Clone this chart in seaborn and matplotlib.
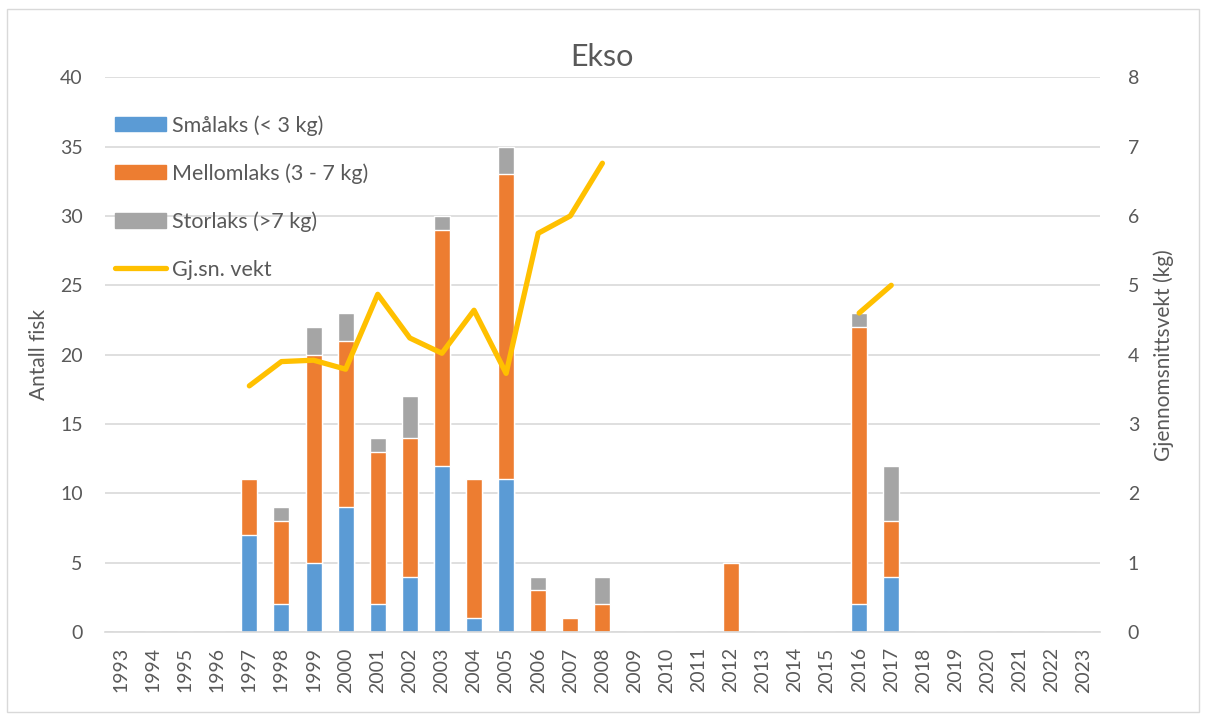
import numpy as np
import pandas as pd
import seaborn as sns
import matplotlib.pyplot as plt
from matplotlib.patches import Patch, Rectangle
from matplotlib.lines import Line2D

years = [str(y) for y in range(1993, 2024)]

# counts per year (only years with catch listed)
catch_years = [1997, 1998, 1999, 2000, 2001, 2002, 2003, 2004, 2005, 2006, 2007, 2008, 2012, 2016, 2017]
smalaks     = [7, 2, 5, 9, 2, 4, 12, 1, 11, 0, 0, 0, 0, 2, 4]
mellomlaks  = [4, 6, 15, 12, 11, 10, 17, 10, 22, 3, 1, 2, 5, 20, 4]
storlaks    = [0, 1, 2, 2, 1, 3, 1, 0, 2, 1, 0, 2, 0, 1, 4]

# average weight (kg)
vekt_years = [1997, 1998, 1999, 2000, 2001, 2002, 2003, 2004, 2005, 2006, 2007, 2008, 2016, 2017]
vekt       = [3.55, 3.9, 3.92, 3.79, 4.87, 4.24, 4.02, 4.64, 3.73, 5.75, 6.0, 6.76, 4.6, 5.0]

blue, orange, grey, gold = '#5B9BD5', '#ED7D31', '#A5A5A5', '#FFC000'
txt = '#595959'

df = pd.DataFrame({'year': years})
counts = pd.DataFrame({'year': [str(y) for y in catch_years],
                       'small': smalaks, 'mid': mellomlaks, 'large': storlaks})
df = df.merge(counts, on='year', how='left').fillna(0)
df['s_m'] = df['small'] + df['mid']
df['total'] = df['s_m'] + df['large']

sns.set_style('white')
plt.rcParams['font.family'] = ['Lato', 'DejaVu Sans']

fig = plt.figure(figsize=(12.06, 7.15), dpi=100)
ax = fig.add_axes([0.087, 0.116, 0.825, 0.776])

# stacked bars by overdrawing cumulative totals
sns.barplot(data=df, x='year', y='total', order=years, color=grey, width=0.5,
            saturation=1, ax=ax)
sns.barplot(data=df, x='year', y='s_m', order=years, color=orange, width=0.5,
            saturation=1, ax=ax)
sns.barplot(data=df, x='year', y='small', order=years, color=blue, width=0.5,
            saturation=1, ax=ax)

ax.set_xlim(-0.5, 30.5)
ax.set_ylim(0, 40)
ax.set_yticks(range(0, 41, 5))
ax.grid(axis='y', color='#D9D9D9', linewidth=1.2)
ax.set_axisbelow(True)
for s in ['top', 'right', 'left']:
    ax.spines[s].set_visible(False)
ax.spines['bottom'].set_color('#D9D9D9')
ax.spines['bottom'].set_linewidth(1.2)
ax.tick_params(axis='both', length=0, colors=txt, labelsize=14)
ax.tick_params(axis='y', pad=16)
ax.tick_params(axis='x', rotation=90, pad=11)
ax.set_xlabel('')
ax.set_ylabel('Antall fisk', color=txt, fontsize=15, labelpad=8)

# average weight line on secondary axis, broken where data is missing
ax2 = ax.twinx()
line = pd.DataFrame({'pos': [years.index(str(y)) for y in vekt_years], 'vekt': vekt})
line['seg'] = (line['pos'].diff().fillna(1) != 1).cumsum()
sns.lineplot(data=line, x='pos', y='vekt', units='seg', estimator=None,
             color=gold, linewidth=3.8, ax=ax2, legend=False)
ax2.set_ylim(0, 8)
ax2.set_yticks(range(0, 9))
ax2.set_xlim(-0.5, 30.5)
for s in ax2.spines.values():
    s.set_visible(False)
ax2.tick_params(axis='y', length=0, colors=txt, labelsize=14, pad=20)
ax2.set_ylabel('Gjennomsnittsvekt (kg)', color=txt, fontsize=15, labelpad=10)
ax2.grid(False)

ax.set_title('Ekso', color=txt, fontsize=22, pad=8)

handles = [Patch(color=blue), Patch(color=orange), Patch(color=grey),
           Line2D([], [], color=gold, linewidth=3.8)]
labels = ['Smålaks (< 3 kg)', 'Mellomlaks (3 - 7 kg)', 'Storlaks (>7 kg)', 'Gj.sn. vekt']
fig.legend(handles, labels, loc='upper left', bbox_to_anchor=(0.095, 0.839),
           frameon=False, fontsize=15.5, labelcolor=txt, handlelength=2.4,
           handleheight=0.65, handletextpad=0.25, labelspacing=1.28,
           borderpad=0, borderaxespad=0)

fig.add_artist(Rectangle((0.006, 0.004), 0.988, 0.984, transform=fig.transFigure,
                         fill=False, edgecolor='#D9D9D9', linewidth=1))

fig.savefig('out.png', dpi=100)
